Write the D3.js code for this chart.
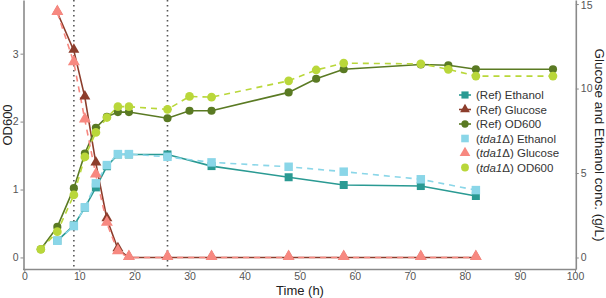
<!DOCTYPE html>
<html>
<head>
<meta charset="utf-8">
<script src="https://cdn.jsdelivr.net/npm/d3@7"></script>
<style>
  body { margin: 0; background: #fff; }
  text { font-family: Arial, "Liberation Sans", sans-serif; }
</style>
</head>
<body>
<div id="chart"></div>
<script>
// time points (h)
var timeOD = [3, 6, 9, 11, 13, 15, 17, 19, 26, 30, 34, 48, 53, 58, 72, 77, 82, 96];
var refOD = [0.12, 0.45, 1.02, 1.53, 1.91, 2.07, 2.14, 2.14, 2.05, 2.16, 2.16, 2.43, 2.63, 2.77, 2.84, 2.83, 2.77, 2.77];
var tdaOD = [0.12, 0.38, 0.92, 1.48, 1.84, 2.06, 2.22, 2.22, 2.18, 2.37, 2.36, 2.60, 2.76, 2.86, 2.85, 2.77, 2.67, 2.67];

var timeConc = [6, 9, 11, 13, 15, 17, 19, 26, 34, 48, 58, 72, 82];
var refEthanol = [1.0, 1.9, 2.95, 4.15, 5.4, 6.1, 6.1, 6.1, 5.41, 4.75, 4.29, 4.23, 3.64];
var tdaEthanol = [0.99, 1.86, 2.97, 4.39, 5.47, 6.12, 6.12, 5.96, 5.63, 5.37, 5.08, 4.63, 3.99];
var refGlucose = [14.5, 12.24, 9.48, 5.57, 2.28, 0.5, 0, 0, 0, 0, 0, 0, 0];
var tdaGlucose = [14.5, 11.53, 8.14, 4.88, 2.02, 0.34, 0, 0, 0, 0, 0, 0, 0];

var xTicks = [0, 10, 20, 30, 40, 50, 60, 70, 80, 90, 100];
var odTicks = [0, 1, 2, 3];
var concTicks = [0, 5, 10, 15];
var vlines = [9, 26];

var legendNames = ["(Ref) Ethanol", "(Ref) Glucose", "(Ref) OD600", "Ethanol", "Glucose", "OD600"];

var width = 606, height = 298;
var svg = d3.select("#chart").append("svg")
    .attr("width", width)
    .attr("height", height);

var x = d3.scaleLinear().domain([0, 100]).range([24.3, 575]);
var y = d3.scaleLinear().domain([-0.17, 3.79]).range([269, 0]);
var y2 = d3.scaleLinear().domain([-0.68, 15.24]).range([269, 0]);

var axisCol = "#8a8a8a", labelCol = "#555";

// dotted reference lines
svg.selectAll(".vline")
    .data(vlines)
  .enter().append("line")
    .attr("x1", function(d) { return x(d); })
    .attr("x2", function(d) { return x(d); })
    .attr("y1", 0).attr("y2", 269)
    .attr("stroke", "#555")
    .attr("stroke-width", 1.6)
    .attr("stroke-dasharray", "1.5,3.5");

// axes
function styleAxis(g) {
  g.select(".domain").attr("stroke", axisCol).attr("stroke-width", 1.6);
  g.selectAll(".tick line").attr("stroke", axisCol).attr("stroke-width", 1);
  g.selectAll(".tick text").attr("fill", labelCol).style("font-size", "10.5px");
}

svg.append("g")
    .attr("transform", "translate(0,269)")
    .call(d3.axisBottom(x).tickValues(xTicks).tickFormat(d3.format("d"))
      .tickSize(3).tickSizeOuter(0).tickPadding(1))
    .call(styleAxis)
    .select(".domain").attr("d", "M23,0.5H576.5");

svg.append("g")
    .attr("transform", "translate(23.5,0)")
    .call(d3.axisLeft(y).tickValues(odTicks).tickFormat(d3.format("d"))
      .tickSize(3).tickSizeOuter(0).tickPadding(2))
    .call(styleAxis);

var rightAxis = svg.append("g")
    .attr("transform", "translate(575.8,0)")
    .call(d3.axisRight(y2).tickValues(concTicks).tickFormat(d3.format("d"))
      .tickSize(3).tickSizeOuter(0).tickPadding(2))
    .call(styleAxis);
// keep the top label inside the picture
rightAxis.selectAll(".tick text").filter(function(d) { return d === 15; }).attr("dy", "0.45em");

// axis titles
svg.append("text")
    .attr("x", 300).attr("y", 295)
    .attr("text-anchor", "middle")
    .attr("fill", "#222")
    .style("font-size", "13px")
    .text("Time (h)");

svg.append("text")
    .attr("transform", "translate(11.5,125) rotate(-90)")
    .attr("text-anchor", "middle")
    .attr("fill", "#222")
    .style("font-size", "13px")
    .text("OD600");

svg.append("text")
    .attr("transform", "translate(595,145) rotate(90)")
    .attr("text-anchor", "middle")
    .attr("fill", "#222")
    .style("font-size", "13.5px")
    .text("Glucose and Ethanol conc. (g/L)");

// series
var series = [
  {t: timeConc, v: refEthanol, sc: y2, col: "#2a9a93", dash: null, shape: d3.symbolSquare, size: 64},
  {t: timeConc, v: refGlucose, sc: y2, col: "#8c3d2c", dash: null, shape: d3.symbolTriangle, size: 52},
  {t: timeOD, v: refOD, sc: y, col: "#5a7a23", dash: null, shape: d3.symbolCircle, size: 52},
  {t: timeConc, v: tdaEthanol, sc: y2, col: "#8ad6e8", dash: "6,5", shape: d3.symbolSquare, size: 72},
  {t: timeConc, v: tdaGlucose, sc: y2, col: "#f78880", dash: "6,5", shape: d3.symbolTriangle, size: 62},
  {t: timeOD, v: tdaOD, sc: y, col: "#b9d73a", dash: "6,5", shape: d3.symbolCircle, size: 60}
];

// lines first, then markers (ref below tda1)
series.forEach(function(s) {
  var pts = s.t.map(function(t, i) { return [t, s.v[i]]; });
  var line = d3.line()
      .x(function(d) { return x(d[0]); })
      .y(function(d) { return s.sc(d[1]); });
  svg.append("path")
      .datum(pts)
      .attr("d", line)
      .attr("fill", "none")
      .attr("stroke", s.col)
      .attr("stroke-width", 1.6)
      .attr("stroke-dasharray", s.dash);
});

series.forEach(function(s) {
  var pts = s.t.map(function(t, i) { return [t, s.v[i]]; });
  svg.selectAll(null)
      .data(pts)
    .enter().append("path")
      .attr("d", d3.symbol().type(s.shape).size(s.size))
      .attr("transform", function(d) {
        var dy = s.shape === d3.symbolTriangle ? -1 : 0;
        return "translate(" + x(d[0]) + "," + (s.sc(d[1]) + dy) + ")";
      })
      .attr("fill", s.col);
});

// legend
var leg = svg.append("g").attr("transform", "translate(465,95)");
series.forEach(function(s, i) {
  var g = leg.append("g").attr("transform", "translate(0," + (i * 14.5) + ")");
  if (!s.dash) {
    g.append("line")
        .attr("x1", -6).attr("x2", 6)
        .attr("stroke", s.col).attr("stroke-width", 1.6);
  }
  g.append("path")
      .attr("d", d3.symbol().type(s.shape).size(s.size * 0.8))
      .attr("fill", s.col);
  var txt = g.append("text")
      .attr("x", 11).attr("y", 4)
      .attr("fill", "#333")
      .style("font-size", "11.5px");
  if (i < 3) {
    txt.text(legendNames[i]);
  } else {
    txt.append("tspan").text("(");
    txt.append("tspan").style("font-style", "italic").text("tda1");
    txt.append("tspan").text("\u0394) " + legendNames[i]);
  }
});
</script>
</body>
</html>
